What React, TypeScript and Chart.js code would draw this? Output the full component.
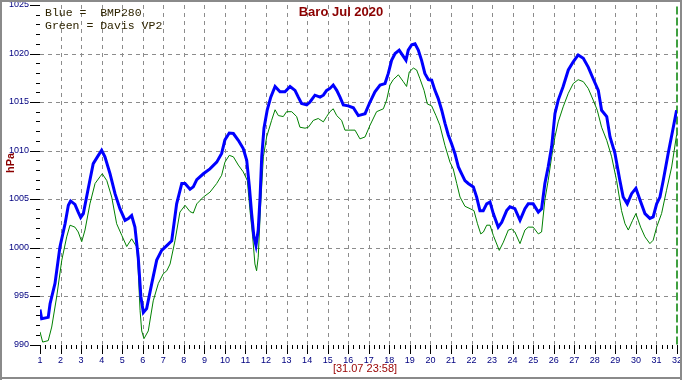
import React, { useEffect, useRef } from 'react';
import { Chart, registerables } from 'chart.js';

Chart.register(...registerables);

const TITLE = 'Baro Jul 2020';
const LEGEND_LINES = ['Blue =  BMP280', 'Green = Davis VP2'];
const Y_TITLE = 'hPa';
const STAMP = '[31.07 23:58]';
const DAY_TICKS = [1, 2, 3, 4, 5, 6, 7, 8, 9, 10, 11, 12, 13, 14, 15, 16, 17, 18, 19, 20, 21, 22, 23, 24, 25, 26, 27, 28, 29, 30, 31, 32];
const HPA_TICKS = [990, 995, 1000, 1005, 1010, 1015, 1020, 1025];
const MINOR_HPA_STEP = 1;
const MINOR_DAY_STEP = 0.25;
const NOW_DAY = 32;

const BLUE_DAYS = [1.00,1.08,1.40,1.49,1.73,1.97,2.22,2.38,2.49,2.70,
2.86,2.98,3.11,3.35,3.59,3.84,4.00,4.16,4.41,4.65,
4.89,5.14,5.30,5.46,5.62,5.78,5.91,6.03,6.19,6.44,
6.68,6.92,7.17,7.41,7.65,7.90,8.06,8.30,8.46,8.63,
8.95,9.27,9.60,9.84,10.00,10.21,10.41,10.65,10.89,11.06,
11.19,11.30,11.41,11.51,11.62,11.71,11.79,11.90,12.06,12.23,
12.44,12.68,12.92,13.17,13.41,13.57,13.73,13.98,14.14,14.38,
14.63,14.79,14.95,15.11,15.27,15.44,15.60,15.76,16.00,16.25,
16.49,16.82,17.06,17.30,17.55,17.79,17.95,18.11,18.28,18.48,
18.65,18.81,18.92,19.09,19.25,19.41,19.57,19.73,19.90,20.06,
20.22,20.38,20.55,20.71,20.87,21.03,21.19,21.36,21.52,21.68,
21.84,22.09,22.25,22.41,22.57,22.74,22.90,23.06,23.30,23.47,
23.71,23.87,24.11,24.36,24.60,24.76,25.00,25.25,25.41,25.57,
25.73,25.90,26.06,26.22,26.46,26.71,26.95,27.19,27.44,27.68,
27.92,28.17,28.33,28.58,28.74,28.98,29.22,29.38,29.58,29.79,
30.00,30.20,30.44,30.68,30.84,31.01,31.17,31.33,31.57,31.82,
31.98];

const BLUE_HPA = [993.6,992.65,992.8,994.2,996.3,1000.05,1002.45,1004.35,1004.8,1004.45,
1003.65,1003.1,1003.5,1006.1,1008.65,1009.5,1010.03,1009.35,1007.6,1005.55,
1004.0,1002.8,1002.98,1003.3,1002.1,999.0,994.9,993.3,993.7,996.3,
998.7,999.7,1000.2,1000.7,1004.5,1006.6,1006.6,1006.0,1006.25,1007.0,
1007.6,1008.1,1008.8,1009.7,1011.1,1011.8,1011.75,1011.05,1010.2,1009.0,
1006.25,1003.5,1001.1,1000.2,1001.8,1005.2,1009.35,1012.3,1014.2,1015.5,
1016.6,1016.05,1016.05,1016.6,1016.2,1015.5,1014.85,1014.7,1015.0,1015.7,
1015.5,1015.7,1016.2,1016.4,1016.75,1016.2,1015.5,1014.7,1014.6,1014.4,
1013.6,1013.8,1015.0,1016.05,1016.75,1016.9,1017.95,1019.3,1020.0,1020.35,
1019.8,1019.3,1020.35,1020.9,1021.0,1020.35,1019.3,1017.95,1017.3,1017.25,
1016.2,1015.35,1014.15,1012.8,1011.6,1010.7,1009.7,1008.3,1007.6,1006.9,
1006.6,1006.25,1005.2,1003.8,1003.8,1004.5,1004.7,1003.5,1002.1,1002.6,
1003.8,1004.2,1004.0,1002.8,1004.0,1004.5,1004.5,1003.65,1004.0,1006.6,
1008.3,1010.4,1013.8,1015.2,1016.6,1018.3,1019.15,1019.85,1019.5,1018.6,
1017.4,1016.2,1014.15,1013.5,1011.4,1009.7,1006.9,1005.2,1004.5,1005.55,
1006.1,1004.9,1003.5,1003.0,1003.15,1004.5,1005.2,1006.9,1009.7,1012.4,
1014.15];

const GREEN_DAYS = [1.00,1.13,1.40,1.57,1.81,2.06,2.30,2.46,2.70,2.86,
3.03,3.19,3.43,3.68,3.92,4.03,4.25,4.49,4.73,4.98,
5.22,5.46,5.71,5.78,5.87,5.95,6.06,6.27,6.51,6.76,
7.00,7.17,7.33,7.57,7.81,8.06,8.30,8.46,8.63,8.95,
9.27,9.60,9.84,10.00,10.21,10.41,10.65,10.89,11.09,11.22,
11.35,11.46,11.54,11.62,11.74,11.87,12.03,12.27,12.44,12.60,
12.84,13.00,13.25,13.49,13.65,13.90,14.06,14.30,14.54,14.79,
14.95,15.11,15.27,15.44,15.68,15.84,16.09,16.33,16.57,16.82,
17.06,17.38,17.71,17.87,18.03,18.19,18.44,18.68,18.84,18.97,
19.17,19.33,19.49,19.69,19.85,20.06,20.27,20.46,20.71,20.95,
21.11,21.28,21.44,21.68,21.93,22.12,22.29,22.45,22.58,22.74,
22.90,23.06,23.35,23.55,23.79,23.95,24.11,24.36,24.60,24.76,
25.00,25.25,25.41,25.57,25.73,25.90,26.06,26.22,26.46,26.71,
26.95,27.19,27.44,27.68,27.92,28.12,28.33,28.58,28.82,29.06,
29.30,29.47,29.63,29.84,30.00,30.23,30.44,30.68,30.84,31.01,
31.25,31.49,31.74,31.98];

const GREEN_HPA = [991.3,990.25,990.4,991.8,994.9,998.7,1001.1,1002.3,1002.1,1001.6,
1000.6,1001.8,1004.5,1006.6,1007.3,1007.6,1006.9,1005.2,1002.45,1001.25,
1000.1,1000.9,1000.05,997.6,993.5,991.4,990.6,991.4,994.5,996.3,
997.3,997.6,998.3,1000.7,1003.65,1004.35,1003.7,1003.55,1004.5,1005.2,
1005.7,1006.6,1007.45,1008.8,1009.5,1009.35,1008.5,1007.8,1006.9,1003.8,
1001.1,998.3,997.6,999.0,1004.5,1009.35,1011.4,1013.1,1014.2,1013.6,
1013.5,1014.0,1014.0,1013.5,1012.4,1012.3,1012.4,1013.1,1013.3,1012.95,
1013.5,1014.0,1014.3,1013.6,1013.1,1012.1,1012.1,1012.1,1011.2,1011.4,
1012.6,1014.0,1014.3,1015.2,1016.75,1017.3,1017.8,1017.1,1016.6,1018.1,
1018.5,1018.3,1017.4,1016.2,1014.8,1014.6,1013.6,1012.6,1010.5,1008.8,
1008.1,1006.6,1005.2,1004.25,1004.0,1003.8,1002.45,1001.4,1001.6,1002.3,
1002.3,1001.25,999.7,1000.55,1001.8,1001.9,1001.6,1000.4,1001.8,1002.1,
1002.1,1001.4,1001.6,1004.9,1006.9,1009.35,1011.4,1012.95,1014.5,1015.9,
1016.9,1017.3,1017.1,1016.4,1015.2,1014.15,1012.4,1011.05,1009.35,1006.9,
1003.8,1002.45,1001.8,1002.8,1003.5,1002.1,1001.1,1000.4,1000.75,1002.1,
1003.5,1005.9,1008.3,1011.6];

const SANS = '"Liberation Sans", Arial, sans-serif';
const MONO = '"Liberation Mono", "Courier New", monospace';

const decorPlugin = {
  id: 'decor',
  beforeDraw(chart: any) {
    const { ctx, width, height } = chart;
    ctx.save();
    ctx.fillStyle = '#ffffff';
    ctx.fillRect(0, 0, width, height);
    ctx.restore();
  },
  beforeDatasetsDraw(chart: any) {
    const { ctx, chartArea: a, scales } = chart;
    const x = scales.x;
    const y = scales.y;
    const yMin = HPA_TICKS[0];
    const yMax = HPA_TICKS[HPA_TICKS.length - 1];
    const dMin = DAY_TICKS[0];
    const dMax = DAY_TICKS[DAY_TICKS.length - 1];
    ctx.save();
    ctx.lineWidth = 1;
    ctx.strokeStyle = '#8c8c8c';
    ctx.setLineDash([4, 4]);
    for (const v of HPA_TICKS) {
      if (v === yMin || v === yMax) continue;
      const py = Math.round(y.getPixelForValue(v)) + 0.5;
      ctx.beginPath();
      ctx.moveTo(a.left, py);
      ctx.lineTo(a.right, py);
      ctx.stroke();
    }
    for (const d of DAY_TICKS) {
      if (d === dMin || d === dMax) continue;
      const px = Math.round(x.getPixelForValue(d)) + 0.5;
      ctx.beginPath();
      ctx.moveTo(px, a.top);
      ctx.lineTo(px, a.bottom);
      ctx.stroke();
    }
    ctx.setLineDash([]);
    ctx.strokeStyle = '#000000';
    for (let v = yMin; v <= yMax + 0.001; v += MINOR_HPA_STEP) {
      const major = Math.abs(v % 5) < 0.001;
      const py = Math.round(y.getPixelForValue(v)) + 0.5;
      const len = major ? 10 : 4;
      ctx.beginPath();
      ctx.moveTo(a.left - len, py);
      ctx.lineTo(a.left, py);
      ctx.stroke();
    }
    const by = Math.round(a.bottom);
    for (let d = dMin; d <= dMax + 0.001; d += MINOR_DAY_STEP) {
      const major = Math.abs(d - Math.round(d)) < 0.001;
      const px = Math.round(x.getPixelForValue(d)) + 0.5;
      const len = major ? 9 : 4;
      ctx.beginPath();
      ctx.moveTo(px, by);
      ctx.lineTo(px, by + len);
      ctx.stroke();
    }
    ctx.restore();
  },
  afterDraw(chart: any) {
    const { ctx, chartArea: a, scales, width, height } = chart;
    const x = scales.x;
    const y = scales.y;
    ctx.save();
    ctx.fillStyle = '#000080';
    ctx.font = `9px ${SANS}`;
    ctx.textAlign = 'right';
    ctx.textBaseline = 'middle';
    for (const v of HPA_TICKS) {
      ctx.fillText(String(v), a.left - 11, y.getPixelForValue(v));
    }
    ctx.textAlign = 'center';
    for (const d of DAY_TICKS) {
      ctx.fillText(String(d), x.getPixelForValue(d), a.bottom + 16);
    }
    ctx.fillStyle = '#8b0000';
    ctx.font = `bold 13px ${SANS}`;
    ctx.fillText(TITLE, 341, 12);
    ctx.fillStyle = '#990000';
    ctx.font = `11px ${SANS}`;
    ctx.fillText(STAMP, 365, 369);
    ctx.save();
    ctx.translate(11, 163);
    ctx.rotate(-Math.PI / 2);
    ctx.fillStyle = '#8b0000';
    ctx.font = `bold 11px ${SANS}`;
    ctx.fillText(Y_TITLE, 0, 0);
    ctx.restore();
    ctx.fillStyle = '#2e2400';
    ctx.font = `11.5px ${MONO}`;
    ctx.textAlign = 'left';
    LEGEND_LINES.forEach((t, i) => ctx.fillText(t, 45, 13 + i * 13));
    ctx.fillStyle = '#8a8a8a';
    ctx.fillRect(0, 0, width, 2);
    ctx.fillRect(0, 0, 2, height);
    ctx.fillRect(0, 377, width, 2);
    ctx.fillRect(width - 2, 0, 2, height);
    ctx.restore();
  },
};

export default function App() {
  const ref = useRef<HTMLCanvasElement | null>(null);
  useEffect(() => {
    document.body.style.margin = '0';
    const canvas = ref.current;
    if (!canvas) return;
    const blue = BLUE_DAYS.map((d, i) => ({ x: d, y: BLUE_HPA[i] }));
    const green = GREEN_DAYS.map((d, i) => ({ x: d, y: GREEN_HPA[i] }));
    const nowLine = [
      { x: NOW_DAY, y: HPA_TICKS[0] },
      { x: NOW_DAY, y: HPA_TICKS[HPA_TICKS.length - 1] },
    ];
    const chart = new Chart(canvas, {
      type: 'line',
      data: {
        datasets: [
          { label: 'BMP280', data: blue, borderColor: '#0000ff', borderWidth: 3, pointRadius: 0, tension: 0, fill: false, order: 0 },
          { label: 'Davis VP2', data: green, borderColor: '#008000', borderWidth: 1, pointRadius: 0, tension: 0, fill: false, order: 1 },
          { label: 'now', data: nowLine, borderColor: '#008000', borderWidth: 1.5, borderDash: [8, 3], pointRadius: 0, fill: false, order: 2, clip: 4 } as any,
        ],
      },
      options: {
        animation: false,
        responsive: false,
        maintainAspectRatio: false,
        layout: { padding: { left: 40, right: 5, top: 5, bottom: 35.5 } },
        scales: {
          x: { type: 'linear', min: 1, max: 32, display: false },
          y: { type: 'linear', min: 990, max: 1025, display: false },
        },
        plugins: { legend: { display: false }, tooltip: { enabled: false }, title: { display: false } },
      },
      plugins: [decorPlugin],
    });
    return () => chart.destroy();
  }, []);
  return (
    <div style={{ width: 682, height: 380 }}>
      <canvas ref={ref} width={682} height={380} style={{ display: 'block', width: 682, height: 380 }} />
    </div>
  );
}
